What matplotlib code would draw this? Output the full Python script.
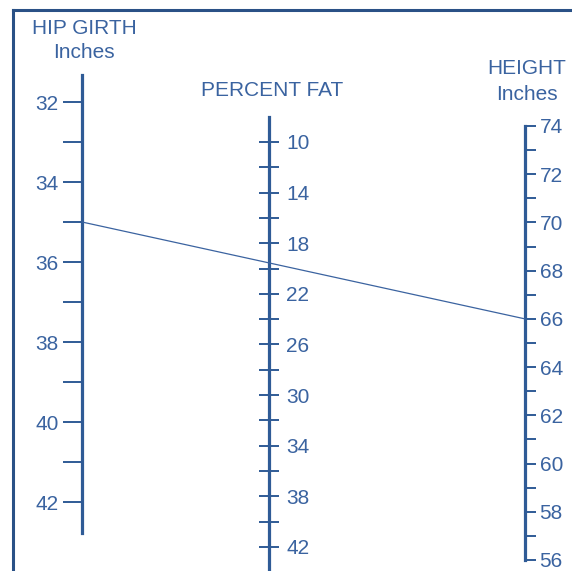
import matplotlib
matplotlib.use("Agg")
import matplotlib.pyplot as plt
from matplotlib.patches import ConnectionPatch
import numpy as np

plt.rcParams['font.family'] = ['Liberation Sans', 'DejaVu Sans']

# scale values
hip_major = [32, 34, 36, 38, 40, 42]
hip_minor = [33, 35, 37, 39, 41]
fat_major = [10, 14, 18, 22, 26, 30, 34, 38, 42]
fat_minor = [12, 16, 20, 24, 28, 32, 36, 40]
height_major = [56, 58, 60, 62, 64, 66, 68, 70, 72, 74]
height_minor = [57, 59, 61, 63, 65, 67, 69, 71, 73]
# example reading on the nomogram
hip_value = 35
height_value = 66

line_col = '#2f5b96'
text_col = '#3a63a0'
W, H = 572, 571

fig = plt.figure(figsize=(W / 100, H / 100), dpi=100)

# open frame (left + top)
frame = fig.add_axes([13 / W, 0, 1 - 13 / W, 1 - 10 / H])
frame.set_xticks([])
frame.set_yticks([])
frame.spines['right'].set_visible(False)
frame.spines['bottom'].set_visible(False)
for s in ['left', 'top']:
    frame.spines[s].set_color('#2a5186')
    frame.spines[s].set_linewidth(2.2)
frame.patch.set_visible(False)


def scale_axis(x, top, bottom, lim, side, direction, length, pad):
    w = 0.001
    left = x / W if side == 'left' else x / W - w
    ax = fig.add_axes([left, 1 - bottom / H, w, (bottom - top) / H])
    ax.patch.set_visible(False)
    for s in ax.spines.values():
        s.set_visible(False)
    ax.spines[side].set_visible(True)
    ax.spines[side].set_color(line_col)
    ax.spines[side].set_linewidth(2.3)
    ax.set_xticks([])
    ax.set_ylim(*lim)
    if side == 'right':
        ax.yaxis.tick_right()
    ax.tick_params(axis='y', which='both', direction=direction, length=length,
                   width=1.4, color=line_col, labelcolor=text_col,
                   labelsize=15, pad=pad)
    return ax


hip_ax = scale_axis(82, 75, 533, (42.775, 31.325), 'left', 'out', 13.5, 3.2)
hip_ax.set_yticks(hip_major)
hip_ax.set_yticks(hip_minor, minor=True)

fat_ax = scale_axis(269, 117, 571, (43.9, 8.025), 'right', 'inout', 14.5, 5)
fat_ax.set_yticks(fat_major)
fat_ax.set_yticks(fat_minor, minor=True)

ht_ax = scale_axis(525, 126, 560, (56, 74), 'right', 'out', 8, 2.5)
ht_ax.set_yticks(height_major)
ht_ax.set_yticks(height_minor, minor=True)

# titles
tkw = dict(color=text_col, fontsize=15, ha='center', va='center')
fig.text(84 / W, 1 - 28 / H, 'HIP GIRTH', **tkw)
fig.text(84 / W, 1 - 53 / H, 'Inches', **tkw)
fig.text(272 / W, 1 - 90 / H, 'PERCENT FAT', **tkw)
fig.text(527 / W, 1 - 68 / H, 'HEIGHT', **tkw)
fig.text(527 / W, 1 - 94 / H, 'Inches', **tkw)

# reading line from hip girth to height
con = ConnectionPatch(xyA=(0, hip_value), coordsA=hip_ax.get_yaxis_transform(),
                      xyB=(1, height_value), coordsB=ht_ax.get_yaxis_transform(),
                      color='#3b63a0', linewidth=0.9)
fig.add_artist(con)

fig.savefig('out.png', dpi=100)
